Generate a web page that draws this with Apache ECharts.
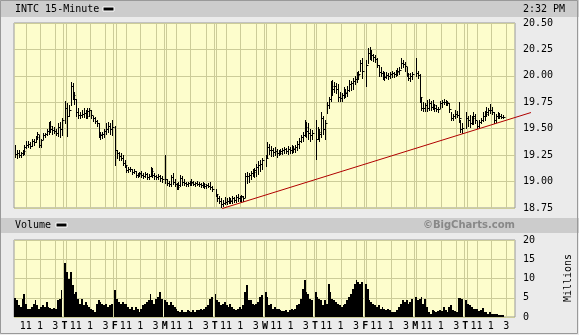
<!DOCTYPE html>
<html><head><meta charset="utf-8">
<script src="https://cdn.jsdelivr.net/npm/echarts@6/dist/echarts.min.js"></script>
<style>html,body{margin:0;padding:0;background:#ebebeb}#c{width:579px;height:335px}</style>
</head><body><div id="c"></div>
<script>
// ---- data ----
const dayLetters = ['W','T','F','M','T','W','T','F','M','T'];
const hourLabels = ['11','1','3'];
const title = 'INTC 15-Minute';
const timeStamp = '2:32 PM';
const priceMin = 18.75, priceMax = 20.5, priceStep = 0.25;
const volMin = 0, volMax = 20, volStep = 5;

const highs = [
 [19.35,19.30,19.30,19.28,19.30,19.35,19.38,19.38,19.37,19.40,19.40,19.43,19.47,19.44,19.40,19.46,19.46,19.50,19.56,19.57,19.53,19.52,19.50,19.55,19.56,19.60],
 [19.76,19.74,19.72,19.94,19.93,19.85,19.78,19.70,19.66,19.68,19.70,19.68,19.70,19.70,19.68,19.62,19.61,19.58,19.55,19.47,19.47,19.50,19.55,19.56,19.55,19.58],
 [19.53,19.30,19.28,19.27,19.25,19.20,19.15,19.14,19.14,19.12,19.12,19.10,19.08,19.09,19.10,19.08,19.09,19.08,19.07,19.14,19.13,19.08,19.06,19.07,19.06,19.05],
 [19.25,19.02,19.01,19.06,19.08,19.02,18.99,19.00,19.06,19.05,19.02,19.00,19.00,19.01,19.02,19.01,19.00,19.01,19.00,18.99,19.00,18.99,18.98,18.99,19.00,18.96],
 [18.93,18.88,18.86,18.84,18.83,18.85,18.84,18.85,18.84,18.86,18.85,18.87,18.88,18.86,18.87,18.86,19.08,19.09,19.08,19.10,19.12,19.13,19.17,19.19,19.20,19.22],
 [19.25,19.37,19.36,19.34,19.32,19.33,19.31,19.30,19.31,19.32,19.33,19.32,19.34,19.33,19.35,19.34,19.35,19.38,19.41,19.44,19.47,19.58,19.56,19.55,19.50,19.49],
 [19.58,19.52,19.50,19.66,19.62,19.58,19.75,19.80,19.95,19.96,19.94,19.93,19.92,19.85,19.84,19.89,19.88,19.90,19.96,19.95,19.98,20.00,20.04,20.05,20.15,20.17],
 [20.15,20.26,20.27,20.24,20.21,20.20,20.17,20.10,20.08,20.05,20.04,20.04,20.03,20.04,20.05,20.04,20.06,20.07,20.08,20.17,20.15,20.13,20.08,20.03,20.03,20.04],
 [20.17,20.05,20.02,19.79,19.75,19.74,19.77,19.78,19.76,19.77,19.73,19.72,19.71,19.76,19.77,19.78,19.77,19.76,19.74,19.66,19.64,19.68,19.67,19.75,19.58,19.55],
 [19.66,19.62,19.63,19.62,19.66,19.64,19.57,19.58,19.60,19.66,19.67,19.71,19.70,19.73,19.71,19.66,19.64,19.66,19.65,19.64,19.63]
];
const lows = [
 [19.23,19.22,19.23,19.23,19.25,19.26,19.32,19.33,19.32,19.34,19.35,19.37,19.40,19.33,19.33,19.40,19.42,19.44,19.45,19.47,19.45,19.46,19.44,19.43,19.42,19.44],
 [19.55,19.43,19.62,19.72,19.78,19.73,19.62,19.60,19.60,19.61,19.61,19.60,19.60,19.62,19.60,19.57,19.55,19.53,19.42,19.40,19.41,19.42,19.45,19.47,19.45,19.44],
 [19.16,19.22,19.20,19.20,19.16,19.14,19.09,19.09,19.10,19.07,19.08,19.04,19.04,19.05,19.04,19.03,19.04,19.02,19.02,19.05,19.04,19.02,19.02,19.02,19.01,19.00],
 [18.99,18.97,18.96,18.96,18.98,18.96,18.93,18.93,18.96,18.97,18.97,18.96,18.96,18.97,18.97,18.97,18.96,18.97,18.96,18.95,18.95,18.94,18.94,18.95,18.93,18.91],
 [18.86,18.82,18.80,18.76,18.77,18.79,18.79,18.80,18.80,18.80,18.81,18.81,18.82,18.82,18.82,18.82,18.85,18.99,19.00,19.02,19.05,19.04,19.05,19.07,19.10,19.12],
 [19.15,19.22,19.26,19.24,19.24,19.25,19.23,19.25,19.26,19.26,19.27,19.27,19.26,19.27,19.27,19.28,19.28,19.30,19.32,19.37,19.38,19.43,19.42,19.40,19.38,19.40],
 [19.21,19.40,19.38,19.42,19.45,19.40,19.65,19.70,19.76,19.82,19.85,19.84,19.76,19.76,19.76,19.79,19.80,19.81,19.86,19.87,19.88,19.92,19.94,19.97,20.05,19.98],
 [19.90,20.12,20.16,20.15,20.14,20.13,20.08,20.00,20.00,19.97,19.96,19.98,19.97,19.98,19.99,19.99,20.00,20.01,20.02,20.07,20.08,20.05,20.00,19.96,19.95,19.97],
 [20.00,19.98,19.75,19.68,19.67,19.67,19.67,19.68,19.68,19.69,19.67,19.67,19.66,19.70,19.71,19.73,19.72,19.72,19.66,19.58,19.58,19.60,19.61,19.56,19.47,19.46],
 [19.51,19.53,19.52,19.54,19.54,19.55,19.51,19.52,19.55,19.57,19.58,19.62,19.63,19.65,19.64,19.55,19.56,19.60,19.60,19.60,19.60]
];
const closes = [
 [19.26,19.27,19.25,19.27,19.29,19.33,19.35,19.36,19.34,19.38,19.37,19.42,19.45,19.35,19.39,19.44,19.45,19.48,19.53,19.50,19.49,19.48,19.46,19.52,19.50,19.58],
 [19.70,19.62,19.68,19.90,19.82,19.78,19.66,19.63,19.63,19.64,19.65,19.62,19.67,19.68,19.63,19.60,19.57,19.55,19.45,19.44,19.45,19.48,19.50,19.53,19.50,19.52],
 [19.30,19.27,19.24,19.22,19.18,19.16,19.11,19.12,19.12,19.09,19.10,19.06,19.07,19.08,19.06,19.05,19.07,19.04,19.05,19.10,19.06,19.05,19.04,19.05,19.03,19.02],
 [19.02,18.99,18.98,19.04,19.00,18.98,18.95,18.97,19.03,19.00,18.99,18.98,18.99,18.99,19.00,18.98,18.99,18.98,18.98,18.97,18.98,18.96,18.97,18.96,18.95,18.93],
 [18.88,18.84,18.82,18.79,18.80,18.81,18.82,18.83,18.82,18.84,18.83,18.85,18.84,18.85,18.86,18.84,19.05,19.05,19.06,19.08,19.09,19.11,19.14,19.16,19.17,19.20],
 [19.22,19.33,19.30,19.30,19.28,19.29,19.27,19.27,19.29,19.30,19.31,19.29,19.31,19.30,19.32,19.31,19.33,19.36,19.38,19.42,19.44,19.52,19.48,19.46,19.44,19.46],
 [19.40,19.47,19.45,19.60,19.50,19.55,19.72,19.78,19.90,19.88,19.90,19.88,19.80,19.79,19.82,19.85,19.84,19.87,19.92,19.93,19.95,19.97,20.01,20.02,20.12,20.05],
 [20.10,20.22,20.20,20.20,20.18,20.16,20.10,20.04,20.03,20.00,19.99,20.01,20.00,20.02,20.03,20.02,20.04,20.05,20.06,20.12,20.11,20.09,20.02,19.98,20.00,20.02],
 [20.03,20.01,19.80,19.70,19.70,19.72,19.70,19.74,19.71,19.72,19.70,19.69,19.69,19.74,19.75,19.75,19.75,19.74,19.69,19.60,19.62,19.64,19.63,19.60,19.50,19.51],
 [19.60,19.58,19.55,19.60,19.62,19.58,19.53,19.56,19.58,19.62,19.64,19.66,19.68,19.68,19.66,19.58,19.62,19.62,19.62,19.61,19.61]
];
const volumes = [
 [5.0,4.4,3.1,2.7,4.8,6.1,3.5,2.2,2.2,2.7,3.5,4.4,3.1,2.2,2.6,3.1,2.7,4.0,2.7,2.4,2.2,2.4,2.2,4.4,4.8,7.0],
 [13.9,11.7,10.0,11.7,8.3,6.1,6.5,4.8,3.5,4.8,3.1,4.0,3.1,2.7,2.2,1.8,1.4,3.5,4.4,4.0,3.5,3.1,3.5,2.7,3.1,3.5],
 [7.0,4.8,4.0,3.5,4.0,3.5,3.5,2.7,2.2,2.7,1.8,2.7,2.2,1.4,2.2,3.1,3.5,4.0,4.4,6.1,4.4,3.5,4.8,5.2,6.5,4.8],
 [4.4,4.0,3.1,4.0,3.1,2.7,2.2,1.6,1.4,1.8,1.4,1.2,1.8,1.6,1.4,1.8,1.4,1.8,1.8,2.2,1.8,2.0,2.7,3.1,4.8,5.2],
 [6.1,4.4,4.0,3.1,3.5,4.0,3.1,2.7,3.5,2.7,2.2,1.8,2.2,2.7,2.2,3.1,6.5,8.4,4.4,4.4,3.5,3.1,3.5,4.0,5.2,5.6],
 [6.5,5.2,3.1,3.5,2.2,2.7,2.2,2.2,1.8,1.6,1.6,1.8,1.4,1.8,2.0,1.8,2.2,3.1,3.5,4.8,7.4,9.5,6.5,6.1,4.8,4.4],
 [6.5,5.2,4.8,4.4,3.1,4.4,3.5,8.7,6.5,4.8,4.4,4.0,3.5,3.1,2.7,3.1,3.5,4.4,5.2,6.1,7.4,8.7,9.5,9.1,8.7,9.1],
 [8.7,7.4,4.4,4.0,3.5,3.1,2.7,3.1,2.2,2.7,2.0,1.8,2.0,1.8,1.4,1.4,1.4,1.8,2.7,3.5,4.4,4.0,4.4,3.5,4.0,4.8],
 [5.2,4.4,4.8,5.2,3.5,4.8,2.7,1.4,0.9,1.8,1.6,1.4,1.6,1.8,1.6,2.7,1.8,1.4,2.7,3.1,1.8,1.6,1.4,4.9,4.9,4.8],
 [4.4,3.5,3.1,2.7,2.2,2.0,2.2,1.6,1.8,2.4,1.4,1.2,0.9,1.4,0.9,0.7,0.9,0.7,0.5,0.5,0.4]
];
// trend line end points: [bar-slot position, price]
const trendSlots = [112.2, 278.6];
const trendPrices = [18.745, 19.653];

// ---- time axis layout (slots: 26 bars + 1 gap per day) ----
const SLOTS = 27, NDAYS = dayLetters.length;
const hourOffsets = [6.3, 14, 22.3];
const barX = (d, b) => d * SLOTS + b + 0.6;

const ohlc = [], vols = [];
for (let d = 0; d < NDAYS; d++) {
  for (let b = 0; b < highs[d].length; b++) {
    ohlc.push([barX(d, b), highs[d][b], lows[d][b], closes[d][b]]);
    vols.push([barX(d, b), volumes[d][b]]);
  }
}
const gridXs = [], labelVals = [], labelMap = {};
for (let d = 0; d < NDAYS; d++) {
  if (d > 0) {
    gridXs.push(d * SLOTS - 0.4, d * SLOTS + 0.9);
    const v = d * SLOTS + 0.25; labelVals.push(v); labelMap[v.toFixed(2)] = '{b|' + dayLetters[d] + '}';
  }
  hourOffsets.forEach((o, i) => {
    const v = d * SLOTS + o; gridXs.push(v); labelVals.push(v); labelMap[v.toFixed(2)] = hourLabels[i];
  });
}
const XMAX = NDAYS * SLOTS;
const MONO = '"DejaVu Sans Mono", monospace';
const GRIDC = '#cccc99';

function vGrid(params, api) {
  const cs = params.coordSys;
  const x = Math.round(api.coord([api.value(0), api.value(1)])[0]) + 0.5;
  return { type: 'line', shape: { x1: x, y1: cs.y, x2: x, y2: cs.y + cs.height },
           style: { stroke: GRIDC, lineWidth: 1 } };
}
function hlcBar(params, api) {
  const x = api.value(0);
  const pH = api.coord([x, api.value(1)]), pL = api.coord([x, api.value(2)]), pC = api.coord([x, api.value(3)]);
  const px = Math.round(pH[0]) + 0.5, cy = Math.round(pC[1]) + 0.5;
  return { type: 'group', children: [
    { type: 'line', shape: { x1: px, y1: Math.round(pH[1]), x2: px, y2: Math.round(pL[1]) + 1 }, style: { stroke: '#000', lineWidth: 1 } },
    { type: 'line', shape: { x1: px, y1: cy, x2: px + 2, y2: cy }, style: { stroke: '#000', lineWidth: 1 } }
  ]};
}
function volBar(params, api) {
  const x = api.value(0);
  const p0 = api.coord([x - 0.5, api.value(1)]), p1 = api.coord([x + 0.5, 0]);
  const x0 = Math.round(p0[0]), x1 = Math.round(p1[0]), y0 = Math.round(p0[1]), y1 = Math.round(p1[1]);
  return { type: 'rect', shape: { x: x0, y: y0, width: Math.max(1, x1 - x0), height: y1 - y0 }, style: { fill: '#000' } };
}
function trendLine(params, api) {
  const a = api.coord([api.value(0), api.value(1)]), b = api.coord([api.value(2), api.value(3)]);
  return { type: 'line', shape: { x1: a[0], y1: a[1], x2: b[0], y2: b[1] }, style: { stroke: '#b00000', lineWidth: 1 } };
}

const chart = echarts.init(document.getElementById('c'), null, { renderer: 'canvas' });
chart.setOption({
  animation: false,
  backgroundColor: '#ebebeb',
  grid: [
    { left: 14, right: 64, top: 23, height: 185, show: true, backgroundColor: '#fdfdcc', borderColor: '#999', borderWidth: 1 },
    { left: 14, right: 64, top: 240, height: 77, show: true, backgroundColor: '#fdfdcc', borderColor: '#999', borderWidth: 1 }
  ],
  xAxis: [
    { type: 'value', gridIndex: 0, min: 0, max: XMAX, axisLine: { show: false }, axisTick: { show: false },
      axisLabel: { show: false }, splitLine: { show: false } },
    { type: 'value', gridIndex: 1, min: 0, max: XMAX, axisLine: { show: false }, axisTick: { show: false },
      splitLine: { show: false },
      axisLabel: { customValues: labelVals, formatter: v => labelMap[v.toFixed(2)] || '', margin: 4,
        color: '#000', fontFamily: MONO, fontSize: 10,
        rich: { b: { fontWeight: 'bold', fontFamily: MONO, fontSize: 10, color: '#000' } } } }
  ],
  yAxis: [
    { type: 'value', gridIndex: 0, position: 'right', min: priceMin, max: priceMax, interval: priceStep,
      axisLine: { show: false }, axisTick: { show: false },
      axisLabel: { formatter: v => v.toFixed(2), margin: 8, color: '#000', fontFamily: MONO, fontSize: 10 },
      splitLine: { show: true, lineStyle: { color: GRIDC, width: 1 } } },
    { type: 'value', gridIndex: 1, position: 'right', min: volMin, max: volMax, interval: volStep,
      axisLine: { show: false }, axisTick: { show: false },
      axisLabel: { margin: 8, color: '#000', fontFamily: MONO, fontSize: 10 },
      splitLine: { show: true, lineStyle: { color: GRIDC, width: 1 } } }
  ],
  series: [
    { type: 'custom', xAxisIndex: 0, yAxisIndex: 0, z: 1, silent: true, renderItem: vGrid,
      data: gridXs.map(x => [x, 19]), encode: { x: 0, y: 1 } },
    { type: 'custom', xAxisIndex: 1, yAxisIndex: 1, z: 1, silent: true, renderItem: vGrid,
      data: gridXs.map(x => [x, 1]), encode: { x: 0, y: 1 } },
    { type: 'custom', xAxisIndex: 0, yAxisIndex: 0, z: 3, renderItem: hlcBar,
      data: ohlc, encode: { x: 0, y: [1, 2, 3] } },
    { type: 'custom', xAxisIndex: 1, yAxisIndex: 1, z: 3, renderItem: volBar,
      data: vols, encode: { x: 0, y: 1 } },
    { type: 'custom', xAxisIndex: 0, yAxisIndex: 0, z: 5, silent: true, clip: false, renderItem: trendLine,
      data: [[trendSlots[0], trendPrices[0], trendSlots[1], trendPrices[1]]], encode: { x: [0, 2], y: [1, 3] } }
  ],
  graphic: [
    { type: 'rect', z: -1, shape: { x: 0, y: 0, width: 579, height: 17 }, style: { fill: '#cccccc' } },
    { type: 'rect', z: -1, shape: { x: 0, y: 218, width: 579, height: 15 }, style: { fill: '#cccccc' } },
    { type: 'rect', z: 10, shape: { x: 0.5, y: 0.5, width: 577, height: 333 }, style: { fill: null, stroke: '#999', lineWidth: 1 } },
    { type: 'text', x: 15, y: 9, style: { text: title, font: '10px ' + MONO, fill: '#000', verticalAlign: 'middle' } },
    { type: 'rect', shape: { x: 103, y: 7, width: 11, height: 4 }, style: { fill: '#000', stroke: '#fff', lineWidth: 1 } },
    { type: 'text', x: 523, y: 9, style: { text: timeStamp, font: '10px ' + MONO, fill: '#000', verticalAlign: 'middle' } },
    { type: 'text', x: 15, y: 225, style: { text: 'Volume', font: '10px ' + MONO, fill: '#000', verticalAlign: 'middle' } },
    { type: 'rect', shape: { x: 56, y: 223, width: 11, height: 4 }, style: { fill: '#000', stroke: '#fff', lineWidth: 1 } },
    { type: 'text', x: 515, y: 225, style: { text: '©BigCharts.com', font: 'bold 10px "DejaVu Sans"', fill: '#888', align: 'right', verticalAlign: 'middle' } },
    { type: 'text', x: 568, y: 278, rotation: Math.PI / 2, style: { text: 'Millions', font: '10px ' + MONO, fill: '#000', align: 'center', verticalAlign: 'middle' } }
  ]
});
</script>
</body></html>
